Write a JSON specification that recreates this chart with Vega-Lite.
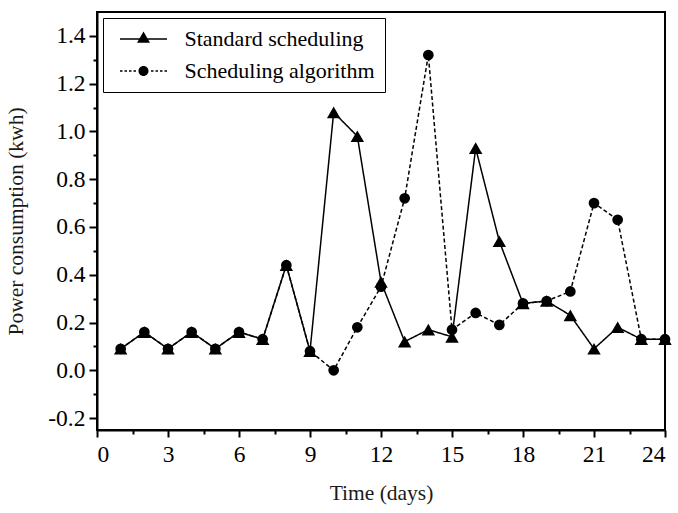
{
  "$schema": "https://vega.github.io/schema/vega-lite/v6.json",
  "width": 568,
  "height": 418,
  "autosize": {"type": "none"},
  "padding": {"left": 97, "top": 12, "right": 13, "bottom": 83},
  "background": "white",
  "config": {
    "view": {"stroke": "black", "strokeWidth": 2},
    "font": "Liberation Serif",
    "axis": {
      "domainColor": "black", "domainWidth": 2, "tickColor": "black", "tickWidth": 2,
      "labelFont": "Liberation Serif", "labelFontSize": 23.5, "labelColor": "black",
      "titleFont": "Liberation Serif", "titleFontSize": 21.5, "titleFontWeight": "normal", "titleColor": "#1a1a1a",
      "grid": false
    }
  },
  "data": {
    "values": [
      {"day": 1, "series": "Scheduling algorithm", "value": 0.09},
      {"day": 2, "series": "Scheduling algorithm", "value": 0.16},
      {"day": 3, "series": "Scheduling algorithm", "value": 0.09},
      {"day": 4, "series": "Scheduling algorithm", "value": 0.16},
      {"day": 5, "series": "Scheduling algorithm", "value": 0.09},
      {"day": 6, "series": "Scheduling algorithm", "value": 0.16},
      {"day": 7, "series": "Scheduling algorithm", "value": 0.13},
      {"day": 8, "series": "Scheduling algorithm", "value": 0.44},
      {"day": 9, "series": "Scheduling algorithm", "value": 0.08},
      {"day": 10, "series": "Scheduling algorithm", "value": 0.0},
      {"day": 11, "series": "Scheduling algorithm", "value": 0.18},
      {"day": 12, "series": "Scheduling algorithm", "value": 0.35},
      {"day": 13, "series": "Scheduling algorithm", "value": 0.72},
      {"day": 14, "series": "Scheduling algorithm", "value": 1.32},
      {"day": 15, "series": "Scheduling algorithm", "value": 0.17},
      {"day": 16, "series": "Scheduling algorithm", "value": 0.24},
      {"day": 17, "series": "Scheduling algorithm", "value": 0.19},
      {"day": 18, "series": "Scheduling algorithm", "value": 0.28},
      {"day": 19, "series": "Scheduling algorithm", "value": 0.29},
      {"day": 20, "series": "Scheduling algorithm", "value": 0.33},
      {"day": 21, "series": "Scheduling algorithm", "value": 0.70},
      {"day": 22, "series": "Scheduling algorithm", "value": 0.63},
      {"day": 23, "series": "Scheduling algorithm", "value": 0.13},
      {"day": 24, "series": "Scheduling algorithm", "value": 0.13},
      {"day": 1, "series": "Standard scheduling", "value": 0.09},
      {"day": 2, "series": "Standard scheduling", "value": 0.16},
      {"day": 3, "series": "Standard scheduling", "value": 0.09},
      {"day": 4, "series": "Standard scheduling", "value": 0.16},
      {"day": 5, "series": "Standard scheduling", "value": 0.09},
      {"day": 6, "series": "Standard scheduling", "value": 0.16},
      {"day": 7, "series": "Standard scheduling", "value": 0.13},
      {"day": 8, "series": "Standard scheduling", "value": 0.44},
      {"day": 9, "series": "Standard scheduling", "value": 0.08},
      {"day": 10, "series": "Standard scheduling", "value": 1.08},
      {"day": 11, "series": "Standard scheduling", "value": 0.98},
      {"day": 12, "series": "Standard scheduling", "value": 0.37},
      {"day": 13, "series": "Standard scheduling", "value": 0.12},
      {"day": 14, "series": "Standard scheduling", "value": 0.17},
      {"day": 15, "series": "Standard scheduling", "value": 0.14},
      {"day": 16, "series": "Standard scheduling", "value": 0.93},
      {"day": 17, "series": "Standard scheduling", "value": 0.54},
      {"day": 18, "series": "Standard scheduling", "value": 0.28},
      {"day": 19, "series": "Standard scheduling", "value": 0.29},
      {"day": 20, "series": "Standard scheduling", "value": 0.23},
      {"day": 21, "series": "Standard scheduling", "value": 0.09},
      {"day": 22, "series": "Standard scheduling", "value": 0.18},
      {"day": 23, "series": "Standard scheduling", "value": 0.13},
      {"day": 24, "series": "Standard scheduling", "value": 0.13}
    ]
  },
  "layer": [
    {
      "mark": {"type": "line", "color": "black", "strokeWidth": 1.5},
      "encoding": {
        "x": {"field": "day", "type": "quantitative", "scale": {"domain": [0, 24], "nice": false},
          "axis": {"values": [0, 3, 6, 9, 12, 15, 18, 21, 24], "tickSize": 7, "labelPadding": 5, "title": "Time (days)", "titlePadding": 17, "orient": "bottom"}},
        "y": {"field": "value", "type": "quantitative", "scale": {"domain": [-0.25, 1.5], "nice": false, "zero": false},
          "axis": {"values": [-0.2, 0, 0.2, 0.4, 0.6, 0.8, 1.0, 1.2, 1.4], "tickSize": 8, "labelPadding": 4,
            "labelExpr": "datum.value < 0 ? '-' + format(-datum.value, '.1f') : format(datum.value, '.1f')",
            "title": "Power consumption (kwh)", "titlePadding": 20, "orient": "left"}},
        "strokeDash": {"field": "series", "type": "nominal",
          "scale": {"domain": ["Standard scheduling", "Scheduling algorithm"], "range": [[1, 0], [4, 2.5]]}, "legend": null}
      }
    },
    {
      "transform": [{"filter": "datum.series == 'Scheduling algorithm'"}],
      "mark": {"type": "point", "filled": true, "color": "black", "opacity": 1, "shape": "circle", "size": 115},
      "encoding": {
        "x": {"field": "day", "type": "quantitative",
          "axis": {"values": [1.5, 4.5, 7.5, 10.5, 13.5, 16.5, 19.5, 22.5], "tickSize": 4, "labels": false, "domain": false, "title": null, "orient": "bottom"}},
        "y": {"field": "value", "type": "quantitative",
          "axis": {"values": [-0.1, 0.1, 0.3, 0.5, 0.7, 0.9, 1.1, 1.3], "tickSize": 4, "labels": false, "domain": false, "title": null, "orient": "left"}}
      }
    },
    {
      "transform": [{"filter": "datum.series == 'Standard scheduling'"}],
      "mark": {"type": "point", "filled": true, "color": "black", "opacity": 1, "shape": "triangle-up", "size": 180},
      "encoding": {
        "x": {"field": "day", "type": "quantitative", "axis": null},
        "y": {"field": "value", "type": "quantitative", "axis": null}
      }
    },
    {
      "mark": {"type": "point", "filled": false, "fill": "black", "stroke": "black", "strokeWidth": 1.5, "opacity": 0},
      "encoding": {
        "x": {"field": "day", "type": "quantitative", "axis": null},
        "y": {"field": "value", "type": "quantitative", "axis": null},
        "shape": {"field": "series", "type": "nominal",
          "scale": {"domain": ["Standard scheduling", "Scheduling algorithm"],
            "range": ["M-2.35,-0.08L2.35,-0.08L2.35,0.08L-2.35,0.08ZM0,-0.75L0.65,0.375L-0.65,0.375Z",
                      "M-2.35,-0.07L-2.1,-0.07L-2.1,0.07L-2.35,0.07ZM-1.9,-0.07L-1.65,-0.07L-1.65,0.07L-1.9,0.07ZM-1.45,-0.07L-1.2,-0.07L-1.2,0.07L-1.45,0.07ZM-1,-0.07L-0.75,-0.07L-0.75,0.07L-1,0.07ZM0.75,-0.07L1,-0.07L1,0.07L0.75,0.07ZM1.2,-0.07L1.45,-0.07L1.45,0.07L1.2,0.07ZM1.65,-0.07L1.9,-0.07L1.9,0.07L1.65,0.07ZM2.1,-0.07L2.35,-0.07L2.35,0.07L2.1,0.07ZM0.5,0A0.5,0.5,0,1,1,-0.5,0A0.5,0.5,0,1,1,0.5,0Z"]},
          "legend": {"orient": "top-left", "offset": 6, "title": null,
            "labelFont": "Liberation Serif", "labelFontSize": 22, "labelColor": "black", "labelLimit": 400,
            "symbolSize": 400, "symbolOffset": 19.5, "labelOffset": 30, "padding": 10, "rowPadding": 10,
            "strokeColor": "black", "fillColor": "white",
            "symbolFillColor": "black", "symbolStrokeColor": "black", "symbolStrokeWidth": 1.5, "symbolOpacity": 1}}
      }
    }
  ],
  "resolve": {
    "scale": {"shape": "independent"},
    "axis": {"x": "independent", "y": "independent"},
    "legend": {"shape": "independent"}
  }
}
